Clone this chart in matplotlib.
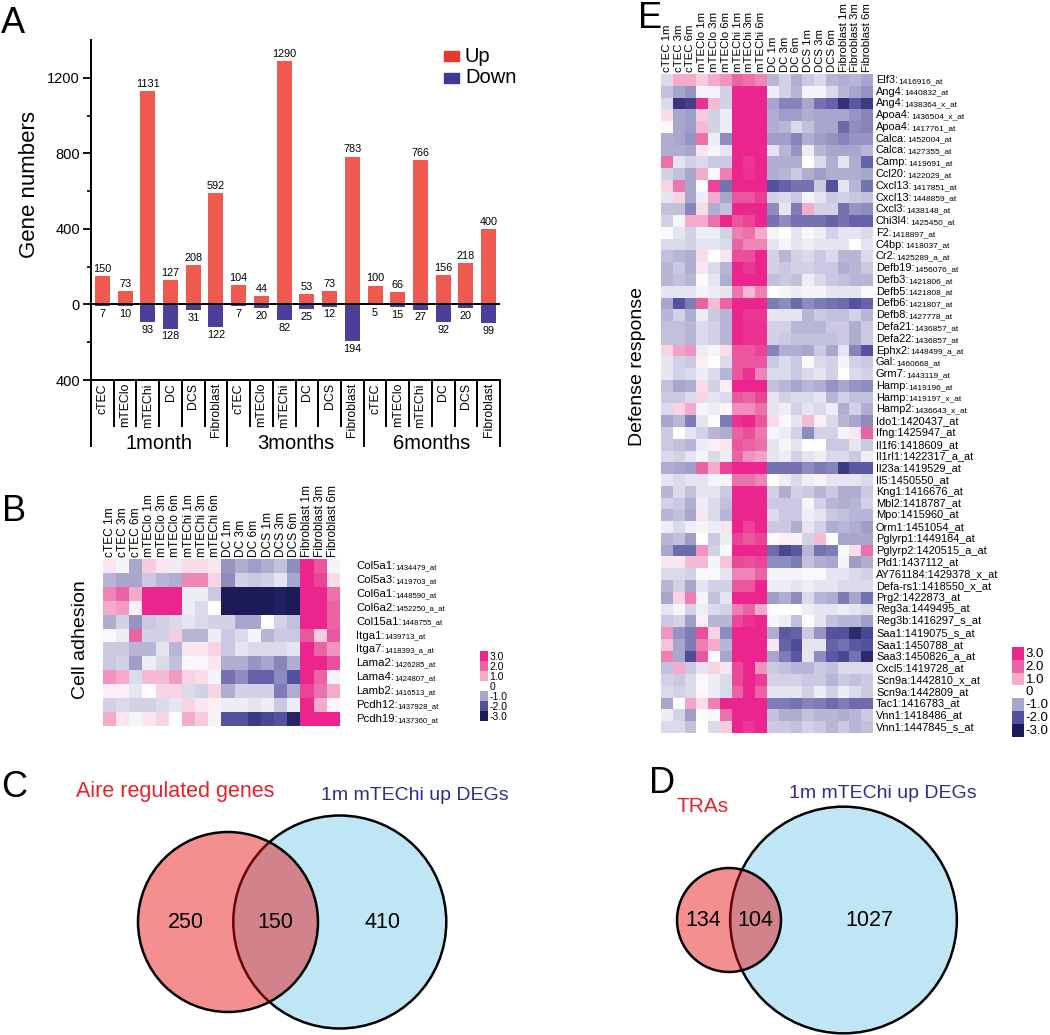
import numpy as np
import matplotlib
matplotlib.use('Agg')
import matplotlib.pyplot as plt
from matplotlib.colors import LinearSegmentedColormap, Normalize
from matplotlib.patches import Circle, Rectangle

plt.rcParams['font.family'] = ['Liberation Sans', 'DejaVu Sans']

W, H = 1050, 1035

# ---------------- data ----------------
# panel A: differentially expressed gene counts
cell_types = ['cTEC', 'mTEClo', 'mTEChi', 'DC', 'DCS', 'Fibroblast']
age_groups = ['1month', '3months', '6months']
up_counts = [150, 73, 1131, 127, 208, 592, 104, 44, 1290, 53, 73, 783, 100, 66, 766, 156, 218, 400]
down_counts = [7, 10, 93, 128, 31, 122, 7, 20, 82, 25, 12, 194, 5, 15, 27, 92, 20, 99]

# heatmap columns (B and E)
hm_columns = ['cTEC 1m', 'cTEC 3m', 'cTEC 6m', 'mTEClo 1m', 'mTEClo 3m', 'mTEClo 6m',
              'mTEChi 1m', 'mTEChi 3m', 'mTEChi 6m', 'DC 1m', 'DC 3m', 'DC 6m',
              'DCS 1m', 'DCS 3m', 'DCS 6m', 'Fibroblast 1m', 'Fibroblast 3m', 'Fibroblast 6m']

# panel B: cell adhesion
adhesion_genes = ['Col5a1', 'Col5a3', 'Col6a1', 'Col6a2', 'Col15a1', 'Itga1', 'Itga7',
                  'Lama2', 'Lama4', 'Lamb2', 'Pcdh12', 'Pcdh19']
adhesion_probes = ['1434479_at', '1419703_at', '1448590_at', '1452250_a_at', '1448755_at',
                   '1439713_at', '1418393_a_at', '1426285_at', '1424807_at', '1416513_at',
                   '1437928_at', '1437360_at']
adhesion_values = [
    [0.3, -0.1, -1.0, 0.6, 0.3, -0.2, 0.4, 0.4, 0.3, -1.2, -0.9, -1.1, -0.9, -0.7, -1.3, 3.0, 2.2, -0.1],
    [-0.8, -1.0, -1.0, -0.6, -0.8, -0.9, 1.5, 1.5, 0.5, -1.3, -0.5, -0.6, -0.5, -0.3, -1.0, 3.0, 2.5, 0.4],
    [1.5, 2.0, 1.0, 3.0, 3.0, 3.0, -0.2, -0.2, -0.6, -3.0, -3.0, -3.0, -3.0, -2.9, -3.0, 3.0, 3.0, 1.8],
    [1.0, 1.2, 0.2, 3.0, 3.0, 3.0, -0.2, -0.4, 0.0, -3.0, -3.0, -3.0, -3.0, -2.9, -3.0, 3.0, 3.0, 2.0],
    [-0.9, -0.5, -1.2, -0.6, -0.5, -0.4, -0.3, -0.4, -0.5, -0.5, -1.0, -1.0, 0.0, -0.5, -0.7, 3.0, 3.0, 2.0],
    [0.1, -0.2, 2.0, -0.5, -0.5, 0.6, -0.8, -0.8, -0.2, -0.6, -0.4, -0.1, -0.8, -0.6, -0.6, 2.2, 0.6, 2.2],
    [-0.6, -0.6, -0.8, -0.8, -0.3, -0.8, 0.3, 0.3, 0.5, -0.6, -0.3, -0.4, -0.4, -0.4, -0.3, 3.0, 2.0, 1.3],
    [-0.6, -0.5, -1.1, -0.2, -0.4, -0.7, 0.1, 0.1, 0.3, -0.9, -0.9, -1.2, -1.0, -1.4, -0.9, 3.0, 3.0, 2.3],
    [1.3, 1.0, -0.4, 0.8, 0.8, 1.2, 0.5, 0.4, -0.1, -1.6, -1.3, -1.8, -1.8, -1.3, -2.0, 3.0, 2.0, -0.1],
    [0.2, 0.2, -0.3, 0.0, 0.5, 0.5, -0.4, -0.5, 0.5, -0.9, -0.5, -0.5, -0.5, -1.5, -0.9, 2.5, 1.8, 1.0],
    [-0.5, -0.4, -0.5, -0.5, -0.4, -0.3, 0.5, 0.3, 0.2, -0.2, -0.2, -0.3, -0.2, -0.6, -0.2, 3.0, 1.0, 0.1],
    [1.0, 0.3, -0.1, 0.3, 0.5, 0.0, 1.0, 0.6, -0.1, -2.0, -2.0, -2.4, -2.2, -2.0, -2.8, 3.0, 3.0, 3.0],
]

# panel E: defense response
defense_genes = ['Elf3', 'Ang4', 'Ang4', 'Apoa4', 'Apoa4', 'Calca', 'Calca', 'Camp', 'Ccl20',
                 'Cxcl13', 'Cxcl13', 'Cxcl3', 'Chi3l4', 'F2', 'C4bp', 'Cr2', 'Defb19', 'Defb3',
                 'Defb5', 'Defb6', 'Defb8', 'Defa21', 'Defa22', 'Ephx2', 'Gal', 'Grm7', 'Hamp',
                 'Hamp', 'Hamp2', 'Ido1', 'Ifng', 'Il1f6', 'Il1rl1', 'Il23a', 'Il5', 'Kng1',
                 'Mbl2', 'Mpo', 'Orm1', 'Pglyrp1', 'Pglyrp2', 'Pld1', 'AY761184', 'Defa-rs1',
                 'Prg2', 'Reg3a', 'Reg3b', 'Saa1', 'Saa1', 'Saa3', 'Cxcl5', 'Scn9a', 'Scn9a',
                 'Tac1', 'Vnn1', 'Vnn1']
defense_probes = ['1416916_at', '1440832_at', '1438364_x_at', '1436504_x_at', '1417761_at',
                  '1452004_at', '1427355_at', '1419691_at', '1422029_at', '1417851_at',
                  '1448859_at', '1438148_at', '1425450_at', '1418897_at', '1418037_at',
                  '1425289_a_at', '1456076_at', '1421806_at', '1421808_at', '1421807_at',
                  '1427778_at', '1436857_at', '1436857_at', '1448499_a_at', '1460668_at',
                  '1443119_at', '1419196_at', '1419197_x_at', '1436643_x_at', '1420437_at',
                  '1425947_at', '1418609_at', '1422317_a_at', '1419529_at', '1450550_at',
                  '1416676_at', '1418787_at', '1415960_at', '1451054_at', '1449184_at',
                  '1420515_a_at', '1437112_at', '1429378_x_at', '1418550_x_at', '1422873_at',
                  '1449495_at', '1416297_s_at', '1419075_s_at', '1450788_at', '1450826_a_at',
                  '1419728_at', '1442810_x_at', '1442809_at', '1416783_at', '1418486_at',
                  '1447845_s_at']
n_small_probe = 29  # first rows print the probe id in a smaller font
defense_values = [
    [-0.4, 1.0, 1.0, 0.6, 1.0, 1.3, 2.0, 1.8, 1.5, -0.8, -0.5, -0.9, -0.6, -0.4, -0.8, -0.9, -0.8, -1.0],
    [-0.7, -1.0, -1.2, -0.1, -0.1, -0.5, 3.0, 3.0, 3.0, -0.2, -0.5, -0.8, -0.1, -0.1, -0.4, -0.8, -1.0, -1.2],
    [-0.4, -2.5, -2.3, 2.8, 0.8, -0.5, 3.0, 3.0, 3.0, -1.0, -1.4, -1.4, -1.0, -1.6, -1.8, -2.6, -1.9, -2.4],
    [0.4, -1.0, -1.1, 0.6, -0.5, -0.2, 3.0, 3.0, 3.0, -0.9, -1.1, -1.1, -0.9, -1.0, -1.0, -1.0, -1.2, -1.4],
    [0.1, -1.0, -1.1, 0.8, -0.5, -0.2, 3.0, 3.0, 3.0, -0.9, -0.8, -0.4, -0.7, -1.0, -1.0, -1.7, -1.3, -1.4],
    [-0.9, -1.0, -1.2, 1.8, -0.2, -1.3, 3.0, 3.0, 3.0, -1.1, -1.1, -1.4, -0.9, -1.1, -1.2, -1.4, -1.2, -1.2],
    [-0.9, -0.9, -1.0, 0.3, -0.1, -0.3, 3.0, 3.0, 3.0, -0.3, -0.8, -1.2, -0.2, -0.8, -1.0, -1.0, -1.0, -0.8],
    [1.8, -0.3, -0.5, -0.4, -0.6, -0.6, 3.0, 2.7, 3.0, -0.9, -0.9, -0.9, 0.0, -0.4, -0.9, -0.3, -0.9, -1.8],
    [-0.5, -0.7, -1.0, 1.0, 0.1, 1.6, 3.0, 2.8, 3.0, -0.9, -0.8, -0.6, -0.9, -1.1, -0.9, -0.9, -0.9, -1.0],
    [0.5, 1.7, -1.0, 0.05, 2.5, -1.6, 3.0, 3.0, 3.0, -2.0, -1.8, -1.6, -1.6, -0.6, -2.0, -0.3, -0.8, -1.6],
    [-0.3, 0.5, -1.0, -0.2, 1.0, -1.0, 2.2, 2.2, 2.6, -0.5, -0.4, -0.6, -0.1, -0.3, -0.6, -0.5, -0.6, -0.7],
    [-0.7, -0.7, -1.4, 0.4, -0.9, -0.7, 3.0, 3.0, 3.0, -1.3, -0.3, -1.5, 1.0, -0.5, -0.5, -1.6, -1.2, -1.3],
    [-0.5, -0.1, 1.0, 1.0, 1.8, 3.0, 2.2, 2.5, 3.0, -1.6, -1.3, -1.6, -1.6, -1.6, -1.8, -1.6, -1.8, -1.8],
    [-0.05, -0.3, -0.5, -0.2, -0.2, -0.5, 1.6, 1.8, 1.0, -0.1, 0.0, -0.3, 0.1, -0.2, -0.5, -0.3, -0.3, -0.4],
    [-0.4, -0.4, -0.5, -0.3, -0.3, -0.4, 2.0, 1.5, 1.5, -0.3, -0.1, -0.3, -0.2, -0.3, -0.3, -0.3, 0.0, -0.3],
    [-0.7, -0.8, -0.9, 0.4, 0.0, 0.3, 2.3, 2.3, 3.0, -0.5, -0.8, -0.5, -0.4, -0.6, -0.4, -0.8, -0.8, -0.4],
    [-0.8, -0.6, -0.9, 0.3, -0.4, -0.8, 3.0, 2.7, 3.0, -0.5, -0.6, -0.5, -0.5, -0.6, -0.6, -0.9, -0.8, -0.6],
    [-0.8, -0.7, -0.8, 0.05, -0.3, -0.9, 3.0, 3.0, 3.0, -0.7, -0.6, -0.7, -0.2, -0.4, -0.6, -0.7, -0.8, -0.8],
    [-0.3, -0.3, -0.3, -0.1, -0.2, -0.3, 1.7, 0.8, 1.6, 0.0, -0.1, -0.2, -0.1, -0.1, -0.3, -0.3, -0.3, -0.05],
    [-1.0, -2.0, -1.5, 2.0, 0.8, 2.0, 3.0, 3.0, 3.0, -1.5, -1.3, -1.7, -1.3, -1.5, -1.6, -1.7, -2.0, -1.8],
    [-0.8, -0.5, -0.9, -0.2, -0.6, -0.8, 3.0, 2.7, 2.7, -0.3, -0.3, -0.3, -0.8, -0.6, -0.7, -0.7, -0.5, -0.8],
    [-0.7, -0.7, -0.8, -0.4, -0.5, -0.8, 3.0, 2.8, 2.8, -0.5, -0.5, -0.8, -0.8, -0.8, -0.6, -0.6, -0.9, -0.6],
    [-0.7, -0.7, -0.8, -0.4, -0.5, -0.8, 3.0, 2.8, 2.8, -0.5, -0.6, -0.7, -0.7, -0.7, -0.7, -0.6, -0.9, -0.6],
    [0.5, 1.1, 1.3, -0.2, -0.1, 0.4, 2.2, 2.2, 2.5, -1.4, -0.9, -0.9, -1.0, -0.6, -1.0, -0.3, -1.4, -2.0],
    [-0.3, -0.5, -0.6, 0.2, 0.0, -0.4, 2.2, 2.2, 2.2, -0.6, -0.4, -0.6, -0.05, -0.4, -0.5, -0.1, -0.5, -0.6],
    [-0.3, -0.5, -0.4, -0.2, -0.4, -0.8, 2.2, 2.8, 1.5, -0.4, -0.4, -0.6, -0.4, -0.3, -0.5, 0.0, -0.4, -0.5],
    [-0.7, -1.0, -0.9, 0.4, -0.5, 0.2, 3.0, 3.0, 3.0, -0.7, -0.8, -1.0, -0.8, -0.9, -1.2, -1.0, -1.2, -1.3],
    [-0.6, -0.6, -0.4, 0.5, -0.3, -0.4, 2.2, 2.0, 2.5, -0.3, -0.5, -0.4, -0.4, -0.3, -0.8, -0.5, -0.7, -0.7],
    [-0.4, 0.5, 1.0, -0.1, -0.2, 0.1, 1.4, 1.4, 1.8, -0.3, -0.2, -0.5, -0.3, -0.4, -0.2, -0.9, -0.5, -0.9],
    [-1.0, -0.8, -1.5, -0.3, 0.05, -1.5, 2.8, 3.0, 2.2, 0.4, 0.1, -0.3, 0.8, 0.2, -0.4, -0.8, -1.0, -1.3],
    [-0.6, 0.0, -0.3, -0.5, -0.8, -0.9, 2.0, 2.3, 1.7, -0.1, -0.2, -0.5, -1.3, -0.5, -0.5, -0.1, 0.3, 2.0],
    [-0.6, -0.7, -0.8, -0.2, 0.2, 0.3, 2.2, 2.0, 1.8, -0.3, -0.1, -0.3, 0.0, 0.0, -0.6, -0.6, -0.3, -0.6],
    [-0.4, -0.5, -0.3, -0.1, -0.4, -0.2, 2.0, 1.3, 1.1, -0.3, -0.2, -0.5, -0.3, -0.2, -0.4, -0.4, -0.6, -0.2],
    [-0.9, -1.0, -1.1, 2.0, 1.0, 2.5, 3.0, 3.0, 3.0, -1.6, -1.6, -1.6, -1.3, -1.5, -1.4, -2.4, -1.9, -1.9],
    [-0.3, -0.4, -0.3, -0.3, -0.1, -0.1, 1.8, 1.8, 1.5, 0.0, -0.2, -0.4, -0.2, -0.1, -0.3, -0.3, -0.3, -0.4],
    [-0.8, -0.4, -0.7, -0.3, -0.3, -0.6, 3.0, 3.0, 3.0, -0.5, -0.9, -0.5, -0.6, -0.8, -0.6, -0.9, -0.9, -0.6],
    [-0.5, -0.6, -0.9, -0.2, -0.4, -0.7, 3.0, 3.0, 3.0, -0.6, -0.6, -0.6, -0.1, -0.5, -0.8, -0.9, -0.8, -0.5],
    [-0.8, -0.7, -1.0, 0.3, -0.4, -0.8, 3.0, 3.0, 3.0, -0.4, -0.6, -0.6, -0.2, -0.3, -0.6, -0.7, -0.8, -0.8],
    [-0.2, -0.4, -0.2, -0.1, -0.2, 0.3, 3.0, 2.5, 3.0, -0.6, -0.6, -0.9, -0.3, -0.5, -0.9, -0.8, -0.9, -1.1],
    [-0.8, -0.7, -1.1, 0.0, -0.6, -0.2, 2.5, 2.2, 2.5, 0.05, 0.2, -0.1, -0.5, 0.8, 0.0, -1.0, -1.0, -1.0],
    [-1.0, -1.7, -1.7, 1.3, -0.5, 0.05, 3.0, 3.0, 3.0, -1.7, -2.2, -1.9, -0.8, -1.6, -1.5, -0.05, 0.4, 1.8],
    [0.3, 0.3, 0.8, 0.8, -0.1, 0.7, 2.4, 2.3, 2.5, -1.3, -1.3, -1.5, -0.7, -0.9, -1.0, -0.1, -1.1, -0.9],
    [-0.4, -0.4, -0.5, -0.05, -0.05, -0.3, 1.5, 1.5, 2.0, -0.1, -0.1, -0.1, -0.05, -0.05, -0.3, -0.3, -0.4, -0.5],
    [-0.8, -0.5, -1.0, -0.3, -0.5, -0.5, 2.2, 2.2, 3.0, -0.2, -0.2, -0.3, -0.2, -0.3, -0.3, -0.4, -0.4, -0.4],
    [-1.0, 0.5, 1.6, -0.1, -0.7, -0.3, 3.0, 3.0, 3.0, -1.1, -0.9, -1.3, -0.4, -0.8, -0.9, -1.5, -1.0, -1.6],
    [-0.3, -0.1, -0.5, -0.2, -0.4, -0.5, 1.6, 2.0, 1.0, 0.05, 0.0, 0.0, -0.2, -0.3, -0.3, -0.2, -0.3, -0.4],
    [-0.6, -0.5, -1.1, 0.2, -0.8, -0.8, 2.4, 2.8, 3.0, -0.1, -0.2, -0.7, 0.05, -0.3, -0.7, -0.8, -0.8, -1.1],
    [1.3, -1.2, -1.5, 2.3, 0.5, -1.3, 3.0, 3.0, 3.0, -0.9, -1.9, -1.8, -0.6, -1.2, -2.0, -2.0, -2.7, -2.2],
    [0.7, -1.0, -1.5, 1.6, 1.0, -0.8, 3.0, 3.0, 3.0, 0.3, -1.8, -2.1, -0.3, -0.3, -1.8, -1.6, -1.9, -2.0],
    [1.6, -1.0, -2.1, 2.2, 0.05, -1.0, 3.0, 3.0, 3.0, -1.0, -1.5, -1.9, -0.3, -1.3, -1.9, -2.2, -1.6, -2.7],
    [-0.7, 1.0, -0.6, -0.3, 0.5, 0.3, 2.4, 3.0, 1.3, -0.6, -0.7, -0.8, -0.8, -0.6, -0.7, -0.4, -0.4, -0.4],
    [-0.5, -0.6, -0.4, 0.1, -0.2, -0.4, 2.4, 3.0, 2.6, -0.5, -0.5, -0.5, -0.6, -0.6, -0.8, -0.6, -0.7, -0.6],
    [-0.4, -0.5, -0.4, 0.1, -0.2, -0.4, 2.0, 3.0, 2.0, -0.3, -0.3, -0.3, -0.5, -0.2, -0.5, -0.2, -0.4, -0.6],
    [-1.0, 0.0, 1.1, 0.4, 1.6, 3.0, 3.0, 3.0, 3.0, -1.5, -1.5, -1.6, -1.4, -1.5, -1.7, -1.5, -1.7, -1.7],
    [-0.2, -0.5, -1.1, 0.05, -0.05, 1.8, 3.0, 3.0, 3.0, -0.7, -0.9, -0.9, -0.7, -0.8, -0.8, -0.9, -0.8, -0.6],
    [-0.4, -0.4, -0.7, 0.0, -0.4, 0.6, 3.0, 2.7, 3.0, -0.6, -0.6, -0.7, -0.5, -0.6, -0.8, -0.6, -0.8, -0.7],
]

# colour key levels
key_levels = [3, 2, 1, 0, -1, -2, -3]
key_labels = ['3.0', '2.0', '1.0', '0', '-1.0', '-2.0', '-3.0']

# panels C and D: venn counts (left only, shared, right only)
aire_venn = [250, 150, 410]
tra_venn = [134, 104, 1027]

UP_COLOR = '#EE5A4F'
DOWN_COLOR = '#4B3F9B'
RED_TEXT = '#E8202A'
BLUE_TEXT = '#2E2E8E'

heat_cmap = LinearSegmentedColormap.from_list(
    'heat', [(0.0, '#1D1A5A'), (1 / 6, '#5552A0'), (2 / 6, '#A7A6CD'), (0.5, '#FFFFFF'),
             (4 / 6, '#F3AACB'), (5 / 6, '#EA64A4'), (1.0, '#EC248D')])
heat_norm = Normalize(vmin=-3, vmax=3)

fig = plt.figure(figsize=(W / 100, H / 100), dpi=100)

# full-figure canvas in pixel units for venns, keys and letters (drawn on top, transparent)
canvas = fig.add_axes([0, 0, 1, 1], zorder=10)
canvas.set_xlim(0, W)
canvas.set_ylim(H, 0)
canvas.axis('off')
canvas.patch.set_alpha(0)


def px_axes(x0, y0, x1, y1):
    return fig.add_axes([x0 / W, 1 - y1 / H, (x1 - x0) / W, (y1 - y0) / H])


# ---------------- panel A ----------------
ax = px_axes(91, 40, 500, 380)
xpos = np.arange(len(up_counts))
ax.bar(xpos, up_counts, width=0.66, color=UP_COLOR)
ax.bar(xpos, -np.array(down_counts), width=0.66, color=DOWN_COLOR)
ax.axhline(0, color='black', lw=1.4)
ax.set_xlim(-0.5, len(up_counts) - 0.5)
ax.set_ylim(-400, 1400)
ax.set_yticks([-400, 0, 400, 800, 1200])
ax.set_yticklabels(['400', '0', '400', '800', '1200'], fontsize=10.5)
ax.set_yticks([-200, 200, 600, 1000], minor=True)
ax.tick_params(axis='y', which='major', length=6, width=1.3, pad=2)
ax.tick_params(axis='y', which='minor', length=3, width=1.2)
ax.set_xticks([])
ax.spines['top'].set_visible(False)
ax.spines['right'].set_visible(False)
ax.spines['left'].set_linewidth(1.4)
ax.spines['bottom'].set_linewidth(1.4)

for xi, u, d in zip(xpos, up_counts, down_counts):
    ax.annotate(str(u), (xi, u), xytext=(0, 1.5), textcoords='offset points',
                ha='center', va='bottom', fontsize=7.8)
    ax.annotate(str(d), (xi, -d), xytext=(0, -2), textcoords='offset points',
                ha='center', va='top', fontsize=7.8)

# category table under the axis
trans = ax.get_xaxis_transform()
ax_h = 340.0
n_types = len(cell_types)
for b in np.arange(-0.5, len(up_counts), 1.0):
    is_group = (b + 0.5) % n_types == 0
    depth = 67 if is_group else 47
    ax.plot([b, b], [0, -depth / ax_h], transform=trans, color='black', lw=1.4,
            clip_on=False, solid_capstyle='butt')
for xi in xpos:
    ax.text(xi, -3 / ax_h, cell_types[xi % n_types], transform=trans, rotation=90,
            ha='center', va='top', fontsize=8.8)
for g, name in enumerate(age_groups):
    ax.text(g * n_types + (n_types - 1) / 2, -63 / ax_h, name, transform=trans,
            ha='center', va='center', fontsize=14.5)

fig.text(30 / W, 1 - 184 / H, 'Gene numbers', rotation=90, ha='center', va='center',
         fontsize=16)

# legend
for k, (lab, col) in enumerate([('Up', '#E8382E'), ('Down', '#3F3A98')]):
    canvas.add_patch(Rectangle((444, 51 + k * 21.5), 15, 10, color=col))
    canvas.text(465, 56 + k * 21.5, lab, va='center', ha='left', fontsize=14.5)


# ---------------- heatmaps ----------------
def heatmap(box, values, genes, probes, n_small, col_fs, gene_fs, probe_fs, gap_px):
    hax = px_axes(*box)
    hax.imshow(np.array(values), cmap=heat_cmap, norm=heat_norm, aspect='auto',
               interpolation='nearest')
    hax.set_xticks(range(len(hm_columns)))
    hax.set_xticklabels(hm_columns, rotation=90, fontsize=col_fs)
    hax.xaxis.tick_top()
    hax.set_yticks([])
    hax.tick_params(axis='x', length=0, pad=1.5)
    for s in hax.spines.values():
        s.set_visible(False)
    off = gap_px * 72 / 100
    for i, (g, p) in enumerate(zip(genes, probes)):
        if i < n_small:
            t = hax.annotate(g + ':', xy=(1, i), xycoords=('axes fraction', 'data'),
                             xytext=(off, 0), textcoords='offset points',
                             va='center', ha='left', fontsize=gene_fs)
            hax.annotate(p, xy=(1, 0), xycoords=t, va='bottom', ha='left',
                         fontsize=probe_fs)
        else:
            hax.annotate(g + ':' + p, xy=(1, i), xycoords=('axes fraction', 'data'),
                         xytext=(off, 0), textcoords='offset points',
                         va='center', ha='left', fontsize=gene_fs)
    return hax


def color_key(x0, y0, bw, bh, fs):
    for k, (lev, lab) in enumerate(zip(key_levels, key_labels)):
        canvas.add_patch(Rectangle((x0, y0 + k * bh), bw, bh, color=heat_cmap(heat_norm(lev)),
                                   lw=0))
        canvas.text(x0 + bw + 1.5, y0 + (k + 0.55) * bh, lab, va='center', ha='left',
                    fontsize=fs)


# panel B
heatmap((103, 559, 340, 726), adhesion_values, adhesion_genes, adhesion_probes,
        len(adhesion_genes), 8.6, 8.2, 5.6, 16)
fig.text(80 / W, 1 - 640 / H, 'Cell adhesion', rotation=90, ha='center', va='center',
         fontsize=14)
color_key(480, 651, 8, 10, 7.5)

# panel E
heatmap((661, 74, 873, 733), defense_values, defense_genes, defense_probes,
        n_small_probe, 8.2, 7.9, 6, 3)
fig.text(637 / W, 1 - 367 / H, 'Defense response', rotation=90, ha='center', va='center',
         fontsize=14)
color_key(1012, 647, 12, 12.8, 9.5)


# ---------------- venn diagrams ----------------
def lens_area(r1, r2, d):
    if d >= r1 + r2:
        return 0.0
    if d <= abs(r1 - r2):
        return np.pi * min(r1, r2) ** 2
    a1 = r1 ** 2 * np.arccos((d ** 2 + r1 ** 2 - r2 ** 2) / (2 * d * r1))
    a2 = r2 ** 2 * np.arccos((d ** 2 + r2 ** 2 - r1 ** 2) / (2 * d * r2))
    a3 = 0.5 * np.sqrt((-d + r1 + r2) * (d + r1 - r2) * (d - r1 + r2) * (d + r1 + r2))
    return a1 + a2 - a3


def venn(counts, cx, cy, scale, left_label, right_label, left_pos, right_pos,
         left_fs, right_fs):
    only_l, both, only_r = counts
    r1 = scale * np.sqrt(only_l + both)
    r2 = scale * np.sqrt(only_r + both)
    target = np.pi * r1 ** 2 * both / (only_l + both)
    lo, hi = abs(r1 - r2), r1 + r2
    for _ in range(60):
        mid = (lo + hi) / 2
        if lens_area(r1, r2, mid) > target:
            lo = mid
        else:
            hi = mid
    d = (lo + hi) / 2
    cx2 = cx + d
    canvas.add_patch(Circle((cx2, cy), r2, facecolor='#C0E6F5', edgecolor='black', lw=1.8))
    canvas.add_patch(Circle((cx, cy), r1, facecolor=(0.906, 0.03, 0.035, 0.45),
                            edgecolor='none'))
    canvas.add_patch(Circle((cx, cy), r1, facecolor='none', edgecolor='black', lw=1.8))
    left_edge_r = cx2 - r2
    right_edge_l = cx + r1
    canvas.text((cx - r1 + left_edge_r) / 2, cy, str(only_l), ha='center', va='center',
                fontsize=15.5)
    canvas.text((left_edge_r + right_edge_l) / 2, cy, str(both), ha='center', va='center',
                fontsize=15.5)
    canvas.text((right_edge_l + cx2 + r2) / 2, cy, str(only_r), ha='center', va='center',
                fontsize=15.5)
    canvas.text(left_pos[0], left_pos[1], left_label, color=RED_TEXT, ha='center',
                va='center', fontsize=left_fs)
    canvas.text(right_pos[0], right_pos[1], right_label, color=BLUE_TEXT, ha='center',
                va='center', fontsize=right_fs)


venn(aire_venn, 228, 922, 4.5, 'Aire regulated genes', '1m mTEChi up DEGs',
     (175, 791), (415, 795), 15.5, 14)
venn(tra_venn, 729, 920, 3.37, 'TRAs', '1m mTEChi up DEGs',
     (703, 807), (883, 793), 15, 14)

# panel letters
for letter, lx, ly in [('A', 1, 33), ('B', 2, 521), ('C', 1, 797), ('D', 649, 793),
                       ('E', 638, 28)]:
    canvas.text(lx, ly, letter, ha='left', va='baseline', fontsize=26)

fig.savefig('out.png', dpi=100)
